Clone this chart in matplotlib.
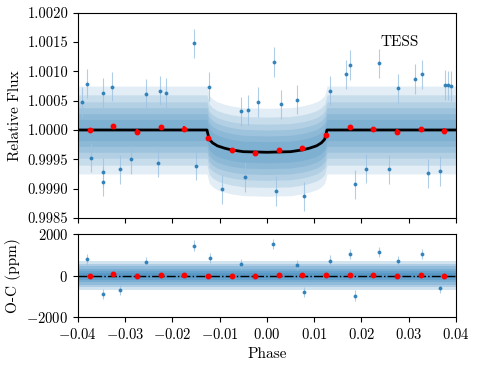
import numpy as np
import matplotlib
matplotlib.use("Agg")
import matplotlib.pyplot as plt
from matplotlib.ticker import FormatStrFormatter, MultipleLocator

plt.rcParams["font.family"] = "serif"
plt.rcParams["font.serif"] = ["cmr10"]
plt.rcParams["mathtext.fontset"] = "cm"
plt.rcParams["axes.formatter.use_mathtext"] = True
plt.rcParams["font.size"] = 10.5

# transit model
model_phase = [-0.04, -0.0127, -0.0124, -0.0122, -0.0115, -0.0105, -0.009, -0.0075, -0.005, 0.0,
               0.005, 0.0075, 0.009, 0.0105, 0.0115, 0.0122, 0.0124, 0.0127, 0.04]
model_flux = [1.0, 1.0, 0.99990, 0.99984, 0.99978, 0.99973, 0.99969, 0.99966, 0.99963, 0.99962,
              0.99963, 0.99966, 0.99969, 0.99973, 0.99978, 0.99984, 0.99990, 1.0, 1.0]

# binned points
bin_phase = [-0.0375, -0.0325, -0.0275, -0.0225, -0.0175, -0.0125, -0.0075, -0.0025,
             0.0025, 0.0075, 0.0125, 0.0175, 0.0225, 0.0275, 0.0325, 0.0375]
bin_flux = [1.00000, 1.00007, 0.99997, 1.00005, 1.00002, 0.99986, 0.99966, 0.99960,
            0.99966, 0.99969, 0.99991, 1.00005, 1.00001, 0.99997, 1.00001, 0.99999]
bin_err = [0.00004] * 16
bin_resid = [0, 60, -20, 40, 10, -10, -10, -30, 40, 20, 20, 50, 20, -30, 20, -10]

# how far the unbinned cloud spreads about the model, outer to inner density levels
flux_spread = [0.00075, 0.00060, 0.00048, 0.00038, 0.00028, 0.00018]
resid_spread = [700, 560, 440, 330, 220, 120]

# individual points that stand out of the cloud
pt_phase = [-0.0381, -0.0391, -0.0347, -0.0327, -0.0347, -0.0346, -0.0310, -0.0256, -0.0227,
            -0.0213, -0.0373, -0.0287, -0.0231, -0.0123, -0.0155, -0.0018, -0.0095, -0.0047,
            -0.0150, -0.0054, -0.0040, 0.0015, 0.0020, 0.0078, 0.0064, 0.0030, 0.0176, 0.0168,
            0.0187, 0.0133, 0.0236, 0.0329, 0.0314, 0.0376, 0.0383, 0.0390, 0.0209, 0.0341,
            0.0258, 0.0367, 0.0277]
pt_flux = [1.00079, 1.00048, 1.00063, 1.00074, 0.99928, 0.99912, 0.99933, 1.00062, 1.00067,
           1.00063, 0.99953, 0.99950, 0.99944, 1.00074, 1.00148, 1.00048, 0.99899, 0.99920,
           0.99939, 1.00032, 1.00034, 1.00116, 0.99896, 0.99887, 1.00052, 1.00044, 1.00111,
           1.00095, 0.99907, 1.00067, 1.00114, 1.00095, 1.00087, 1.00077, 1.00076, 1.00075,
           0.99934, 0.99926, 0.99933, 0.99930, 1.00071]

res_phase = [-0.0155, 0.0013, -0.0121, -0.0347, 0.0187, 0.0176, 0.0236, 0.0327, 0.0078,
             -0.0381, -0.0310, -0.0256, -0.0054, 0.0064, 0.0133, 0.0277, 0.0367]
res_ppm = [1446, 1528, 853, -882, -964, 1046, 1123, 1046, -805,
           780, -690, 640, 560, 520, 720, 690, -600]

model_phase = np.array(model_phase)
model_flux = np.array(model_flux)

fig = plt.figure(figsize=(4.78, 3.65), dpi=100)
ax1 = fig.add_axes([0.163, 0.403, 0.791, 0.562])
ax2 = fig.add_axes([0.163, 0.1315, 0.791, 0.227])

# top panel: data cloud as stacked density levels
for w in flux_spread:
    ax1.fill_between(model_phase, model_flux - w, model_flux + w,
                     color="#1f77b4", alpha=0.13, lw=0, zorder=1)
ax1.errorbar(pt_phase, pt_flux, yerr=0.00025, fmt="o", ms=1.8, color="#1f77b4",
             ecolor="#9ec2e2", elinewidth=0.8, alpha=0.8, zorder=2)
ax1.plot(model_phase, model_flux, color="black", lw=2, zorder=3)
ax1.errorbar(bin_phase, bin_flux, yerr=bin_err, fmt="o", ms=3.2, color="red",
             elinewidth=1.5, zorder=4)
ax1.text(0.028, 1.0015, "TESS", ha="center", va="center", fontsize=11)

ax1.set_xlim(-0.04, 0.04)
ax1.set_ylim(0.9985, 1.0020)
ax1.yaxis.set_major_locator(MultipleLocator(0.0005))
ax1.yaxis.set_major_formatter(FormatStrFormatter("%.4f"))
ax1.xaxis.set_major_locator(MultipleLocator(0.01))
ax1.tick_params(labelbottom=False)
ax1.set_ylabel("Relative Flux", fontsize=11)

# bottom panel: residuals
zero = np.zeros(len(model_phase))
for w in resid_spread:
    ax2.fill_between(model_phase, zero - w, zero + w,
                     color="#1f77b4", alpha=0.2, lw=0, zorder=1)
ax2.errorbar(res_phase, res_ppm, yerr=250, fmt="o", ms=1.8, color="#1f77b4",
             ecolor="#9ec2e2", elinewidth=0.8, alpha=0.8, zorder=2)
ax2.axhline(0, color="black", ls="-.", lw=1, zorder=3)
ax2.plot(bin_phase, bin_resid, "o", ms=3.2, color="red", zorder=4)

ax2.set_xlim(-0.04, 0.04)
ax2.set_ylim(-2000, 2000)
ax2.yaxis.set_major_locator(MultipleLocator(2000))
ax2.xaxis.set_major_locator(MultipleLocator(0.01))
ax2.set_xlabel("Phase", fontsize=11)
ax2.set_ylabel("O-C (ppm)", fontsize=11)

fig.savefig("out.png", dpi=100)
